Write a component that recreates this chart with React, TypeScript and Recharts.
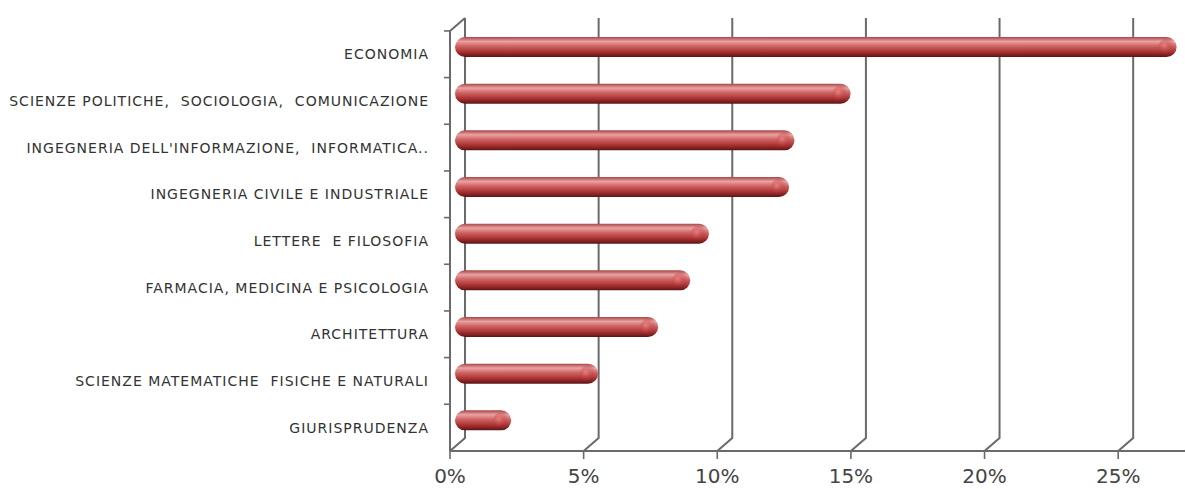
import React from "react";
import { BarChart, Bar, XAxis, YAxis, CartesianGrid } from "recharts";

// categories, top to bottom
const categories = [
  "ECONOMIA",
  "SCIENZE POLITICHE,  SOCIOLOGIA,  COMUNICAZIONE",
  "INGEGNERIA DELL'INFORMAZIONE,  INFORMATICA..",
  "INGEGNERIA CIVILE E INDUSTRIALE",
  "LETTERE  E FILOSOFIA",
  "FARMACIA, MEDICINA E PSICOLOGIA",
  "ARCHITETTURA",
  "SCIENZE MATEMATICHE  FISICHE E NATURALI",
  "GIURISPRUDENZA",
];

// percentage values
const values = [27.0, 14.8, 12.7, 12.5, 9.5, 8.8, 7.6, 5.35, 2.1];

const xTicks = [0, 5, 10, 15, 20, 25];

const data = categories.map((name, i) => ({ name, value: values[i] }));

const GRID = "#6a6a6a";
const DEPTH_X = 15;
const DEPTH_Y = 13;

// 3D-ish grid line: back wall vertical + diagonal to the front floor
const gridLine = (props: any) => {
  const { x1, y1, y2, index } = props;
  const bx = x1 + DEPTH_X;
  return (
    <g key={`grid-${index}`}>
      <path
        d={`M${bx},${y1 - DEPTH_Y} L${bx},${y2 - DEPTH_Y} L${x1},${y2}`}
        fill="none"
        stroke={GRID}
        strokeWidth={2}
      />
      {index === 0 && (
        <line x1={x1} y1={y1} x2={bx} y2={y1 - DEPTH_Y} stroke={GRID} strokeWidth={2} />
      )}
    </g>
  );
};

// cylinder-looking bar
const CylinderBar = (props: any) => {
  const { x, y, width, height } = props;
  const bx = x + 5;
  const by = y - 7;
  const r = height / 2;
  return (
    <g>
      <defs>
        <linearGradient id="cyl" x1="0" y1="0" x2="0" y2="1">
          <stop offset="0%" stopColor="#a84545" />
          <stop offset="22%" stopColor="#eaa2a2" />
          <stop offset="45%" stopColor="#d06464" />
          <stop offset="75%" stopColor="#a83030" />
          <stop offset="100%" stopColor="#5c1414" />
        </linearGradient>
        <radialGradient id="cap" cx="0.35" cy="0.4" r="0.6">
          <stop offset="0%" stopColor="#f08080" stopOpacity={0.9} />
          <stop offset="100%" stopColor="#a02828" stopOpacity={0} />
        </radialGradient>
      </defs>
      <rect x={bx} y={by} width={width} height={height} rx={r} ry={r} fill="url(#cyl)" />
      <ellipse cx={bx + width - r} cy={by + r} rx={r * 0.8} ry={r * 0.8} fill="url(#cap)" />
    </g>
  );
};

const YTick = (props: any) => {
  const { x, y, payload } = props;
  return (
    <g>
      <line x1={x + 2} y1={y - 23.4} x2={x + 8} y2={y - 23.4} stroke={GRID} strokeWidth={1.6} />
      <text
        x={x - 13}
        y={y}
        dy={5}
        textAnchor="end"
        fontFamily="DejaVu Sans"
        fontSize={14}
        letterSpacing={1}
        fill="#333"
        style={{ whiteSpace: "pre" }}
      >
        {payload.value}
      </text>
    </g>
  );
};

const XTick = (props: any) => {
  const { x, y, payload } = props;
  return (
    <text
      x={x}
      y={y + 22}
      textAnchor="middle"
      fontFamily="DejaVu Sans"
      fontSize={20}
      fill="#444"
    >
      {`${payload.value}%`}
    </text>
  );
};

export default function App() {
  return (
    <div style={{ position: "absolute", left: 0, top: 0, width: 1185, height: 489, background: "#fff" }}>
      <BarChart
        width={1185}
        height={489}
        data={data}
        layout="vertical"
        margin={{ top: 31, right: 0, bottom: 0, left: 0 }}
        barCategoryGap={0}
      >
        <CartesianGrid horizontal={false} vertical={gridLine} />
        <XAxis
          type="number"
          domain={[0, 27.5]}
          ticks={xTicks}
          allowDataOverflow
          height={38}
          axisLine={{ stroke: GRID, strokeWidth: 2 }}
          tickLine={{ stroke: GRID, strokeWidth: 1.6 }}
          tickSize={8}
          tick={<XTick />}
          interval={0}
        />
        <YAxis
          type="category"
          dataKey="name"
          width={450}
          axisLine={{ stroke: GRID, strokeWidth: 2 }}
          tickLine={false}
          tick={<YTick />}
          interval={0}
        />
        <Bar dataKey="value" barSize={20} shape={<CylinderBar />} isAnimationActive={false} />
      </BarChart>
    </div>
  );
}
